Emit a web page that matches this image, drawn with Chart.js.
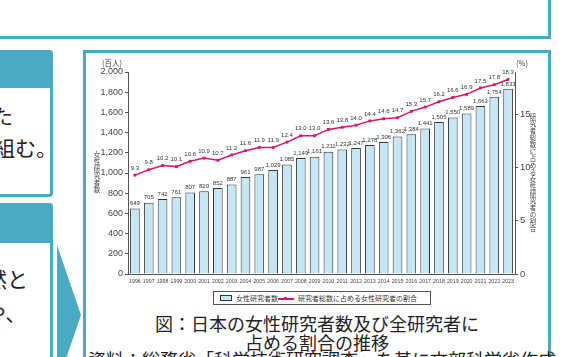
<!DOCTYPE html>
<html lang="ja">
<head>
<meta charset="utf-8">
<script src="https://cdn.jsdelivr.net/npm/chart.js@4.4.1/dist/chart.umd.min.js"></script>
<style>
  html, body { margin:0; padding:0; background:#fff; }
  body { width:565px; height:357px; overflow:hidden; position:relative; font-family:"Noto Sans CJK JP","Noto Sans",sans-serif; }
  .abs { position:absolute; box-sizing:border-box; }
  .teal-border { border:3px solid #4aa9c4; background:#fff; }
  .teal-fill { background:#4aa9c4; }
  .big { font-size:21px; line-height:24px; color:#222; white-space:nowrap; }
  .cap { font-size:18px; line-height:20px; color:#222; white-space:nowrap; }
  .small { font-family:"Liberation Sans","Noto Sans CJK JP",sans-serif; color:#444; white-space:nowrap; }
  .vt { display:flex; flex-direction:column; align-items:center; font-size:6.5px; line-height:7px; color:#444; font-family:"Noto Sans CJK JP",sans-serif; width:8px; }
  .vt span { display:block; height:7px; }
</style>
</head>
<body>
<!-- slide decorations -->
<div class="abs teal-border" style="left:-4px;top:-4px;width:555px;height:43px;"></div>

<div class="abs teal-border" style="left:-4px;top:50px;width:57px;height:147px;border-radius:4px;"></div>
<div class="abs teal-fill" style="left:-4px;top:50px;width:57px;height:38px;border-radius:4px 4px 0 0;"></div>
<div class="abs big" style="left:-8px;top:103px;">た</div>
<div class="abs big" style="left:-6px;top:135px;">組む。</div>

<div class="abs teal-border" style="left:-4px;top:203px;width:57px;height:200px;border-radius:4px;"></div>
<div class="abs teal-fill" style="left:-4px;top:203px;width:57px;height:40px;border-radius:4px 4px 0 0;"></div>
<div class="abs big" style="left:-14px;top:266px;">然と</div>
<div class="abs big" style="left:-15px;top:300px;">や、</div>

<div class="abs teal-fill" style="left:57px;top:245px;width:24px;height:140px;clip-path:polygon(0 0,100% 50%,0 100%);"></div>

<div class="abs teal-border" style="left:83px;top:50px;width:468px;height:330px;"></div>

<!-- chart -->
<div class="abs" style="left:86px;top:53px;width:462px;height:237px;">
  <canvas id="c" width="462" height="237"></canvas>
</div>
<div class="abs small" style="left:102px;top:57px;font-size:7.5px;font-family:'Noto Sans CJK JP',sans-serif;">(百人)</div>
<div class="abs small" style="left:516px;top:57px;font-size:7.5px;font-family:'Noto Sans CJK JP',sans-serif;">(%)</div>
<div class="abs vt" id="ltitle" style="left:93px;top:151px;"></div>
<div class="abs vt" id="rtitle" style="left:529px;top:113px;"></div>

<!-- legend -->
<div class="abs" style="left:213px;top:291px;width:218px;height:14px;border:1px solid #555;background:#fff;font-family:'Noto Sans CJK JP',sans-serif;font-size:7px;color:#333;">
  <div class="abs" style="left:6px;top:3px;width:12px;height:6px;background:#c6e6f6;border:1px solid #333;"></div>
  <div class="abs" style="left:22px;top:1px;line-height:10px;white-space:nowrap;">女性研究者数</div>
  <div class="abs" style="left:64px;top:6px;width:16px;height:1.5px;background:#d6186c;"></div>
  <div class="abs" style="left:70px;top:5px;width:3px;height:3px;background:#d6186c;"></div>
  <div class="abs" style="left:84px;top:1px;line-height:10px;white-space:nowrap;">研究者総数に占める女性研究者の割合</div>
</div>

<!-- captions -->
<div class="abs cap" style="left:83px;top:313px;width:468px;text-align:center;">図：日本の女性研究者数及び全研究者に</div>
<div class="abs cap" style="left:83px;top:332px;width:468px;text-align:center;">占める割合の推移</div>
<div class="abs cap" style="left:88px;top:349px;">資料：総務省「科学技術研究調査」を基に文部科学省作成</div>

<script>
const years = ['1996','1997','1998','1999','2000','2001','2002','2003','2004','2005','2006','2007','2008','2009','2010','2011','2012','2013','2014','2015','2016','2017','2018','2019','2020','2021','2022','2023'];
const femaleResearchers = [649,705,742,761,807,820,852,887,961,987,1029,1085,1149,1161,1211,1232,1247,1278,1306,1362,1384,1441,1505,1550,1589,1663,1754,1833];
const femaleShare = [9.3,9.8,10.2,10.1,10.6,10.9,10.7,11.2,11.6,11.9,11.9,12.4,13.0,13.0,13.6,13.8,14.0,14.4,14.6,14.7,15.3,15.7,16.2,16.6,16.9,17.5,17.8,18.3];
const leftTickStep = 200;
const rightTickStep = 5;
const leftTitle = '女性研究者数';
const rightTitle = '研究者総数に占める女性研究者の割合';

function stack(id, text) {
  const el = document.getElementById(id);
  for (const ch of text) {
    const s = document.createElement('span');
    s.textContent = ch;
    el.appendChild(s);
  }
}
stack('ltitle', leftTitle);
stack('rtitle', rightTitle);

const labelPlugin = {
  id: 'valueLabels',
  afterDatasetsDraw(chart) {
    const ctx = chart.ctx;
    ctx.save();
    ctx.fillStyle = '#333';
    ctx.textAlign = 'center';
    ctx.textBaseline = 'middle';
    ctx.font = '6px "Liberation Sans Narrow","Liberation Sans",sans-serif';
    const barMeta = chart.getDatasetMeta(1);
    barMeta.data.forEach((el, i) => {
      ctx.fillText(femaleResearchers[i].toLocaleString('en-US'), el.x, el.y - 5);
    });
    const lineMeta = chart.getDatasetMeta(0);
    lineMeta.data.forEach((el, i) => {
      ctx.fillText(femaleShare[i].toFixed(1), el.x, el.y - 7);
    });
    ctx.restore();
  }
};

new Chart(document.getElementById('c'), {
  data: {
    labels: years,
    datasets: [
      {
        type: 'line',
        label: '研究者総数に占める女性研究者の割合',
        data: femaleShare,
        yAxisID: 'y1',
        borderColor: '#d6186c',
        backgroundColor: '#d6186c',
        borderWidth: 1.5,
        pointStyle: 'rect',
        pointRadius: 2,
        pointBorderWidth: 0,
        tension: 0,
        order: 0
      },
      {
        type: 'bar',
        label: '女性研究者数',
        data: femaleResearchers,
        yAxisID: 'y',
        backgroundColor: '#c6e6f6',
        borderColor: '#333',
        borderWidth: 1,
        barPercentage: 0.7,
        categoryPercentage: 1.0,
        order: 1
      }
    ]
  },
  options: {
    responsive: false,
    animation: false,
    devicePixelRatio: 1,
    layout: { padding: { top: 19, left: 0, right: 0, bottom: 0 } },
    plugins: { legend: { display: false }, tooltip: { enabled: false } },
    scales: {
      x: {
        grid: { display: false, drawTicks: false },
        border: { display: true, color: '#555' },
        ticks: {
          autoSkip: false, maxRotation: 0, minRotation: 0, padding: 4,
          color: '#444',
          font: { size: 5.3, family: '"Liberation Sans Narrow","Liberation Sans",sans-serif' }
        },
        afterFit(s) { s.height = 16; }
      },
      y: {
        position: 'left',
        min: 0, max: 2000,
        grid: { display: true, drawOnChartArea: false, tickLength: 3, color: '#555' },
        border: { display: true, color: '#555' },
        ticks: {
          stepSize: leftTickStep, padding: 2, color: '#444',
          font: { size: 9, family: '"Liberation Sans",sans-serif' },
          callback: v => Number(v).toLocaleString('en-US')
        },
        afterFit(s) { s.width = 42; }
      },
      y1: {
        position: 'right',
        min: 0, max: 19,
        grid: { display: true, drawOnChartArea: false, tickLength: 3, color: '#555' },
        border: { display: true, color: '#555' },
        ticks: {
          stepSize: rightTickStep, includeBounds: false, padding: 2, color: '#444',
          font: { size: 9.5, family: '"Liberation Sans",sans-serif' }
        },
        afterBuildTicks(s) { s.ticks = s.ticks.filter(t => t.value % rightTickStep === 0); },
        afterFit(s) { s.width = 33; }
      }
    }
  },
  plugins: [labelPlugin]
});
</script>
</body>
</html>
